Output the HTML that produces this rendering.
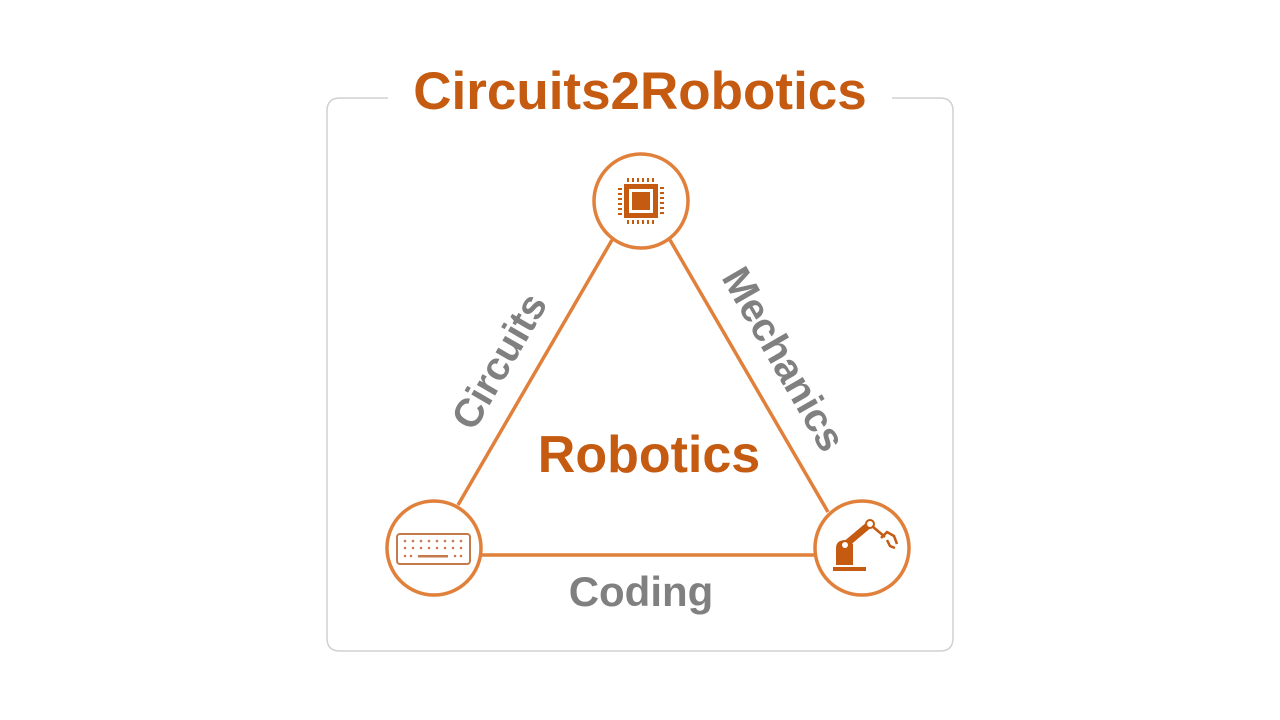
<!DOCTYPE html>
<html><head><meta charset="utf-8"><style>
body{margin:0;background:#fff;}
svg{display:block}
text{font-family:"Liberation Sans",sans-serif;font-weight:bold}
</style></head><body>
<svg width="1280" height="720" viewBox="0 0 1280 720">
<path d="M388 98 H340 Q327 98 327 111 V638 Q327 651 340 651 H940 Q953 651 953 638 V111 Q953 98 940 98 H892" fill="none" stroke="#d0d0d0" stroke-width="1.5"/>
<text x="640" y="109" font-size="53" fill="#c55a11" text-anchor="middle">Circuits2Robotics</text>
<g stroke="#e0803a" stroke-width="3.5" fill="none">
<line x1="612" y1="240" x2="458" y2="505"/>
<line x1="670" y1="240" x2="828" y2="512"/>
<line x1="481" y1="555" x2="815" y2="555"/>
<circle cx="641" cy="201" r="47" fill="#fff"/>
<circle cx="434" cy="548" r="47" fill="#fff"/>
<circle cx="862" cy="548" r="47" fill="#fff"/>
</g>
<g fill="#c55a11">
<rect x="624" y="184" width="34" height="34"/>
<rect x="629" y="189" width="24" height="24" fill="#fff"/>
<rect x="632" y="192" width="18" height="18"/>
<g id="pins">
<rect x="627" y="178" width="2" height="4"/><rect x="632" y="178" width="2" height="4"/><rect x="637" y="178" width="2" height="4"/><rect x="642" y="178" width="2" height="4"/><rect x="647" y="178" width="2" height="4"/><rect x="652" y="178" width="2" height="4"/>
</g>
<use href="#pins" y="42"/>
<use href="#pins" transform="rotate(90 641 201)"/>
<use href="#pins" transform="rotate(-90 641 201)"/>
</g>
<rect x="397" y="534" width="73" height="30" rx="3" fill="none" stroke="#c57a4a" stroke-width="2"/>
<g fill="#c57a4a">
<g id="row"><circle cx="405" cy="541" r="1.3"/><circle cx="413" cy="541" r="1.3"/><circle cx="421" cy="541" r="1.3"/><circle cx="429" cy="541" r="1.3"/><circle cx="437" cy="541" r="1.3"/><circle cx="445" cy="541" r="1.3"/><circle cx="453" cy="541" r="1.3"/><circle cx="461" cy="541" r="1.3"/></g>
<use href="#row" y="7"/>
<circle cx="405" cy="556" r="1.3"/><circle cx="411" cy="556" r="1.3"/><rect x="418" y="555" width="30" height="2.5"/><circle cx="455" cy="556" r="1.3"/><circle cx="461" cy="556" r="1.3"/>
</g>
<g fill="#c55a11" stroke="#c55a11">
<rect x="833" y="567" width="33" height="4" stroke="none"/>
<path d="M836 565 V548 Q836 540 846 540 L853 544 V565 Z" stroke="none"/>
<line x1="845" y1="545" x2="870" y2="524" stroke-width="7" stroke-linecap="round"/>
<circle cx="870" cy="524" r="4" fill="#fff" stroke-width="2"/>
<circle cx="845" cy="545" r="3" fill="#fff" stroke="none"/>
<path d="M872 526 L885 537 M881 538 L887 532 L894 536 L897 544 M887 540 L890 546 L895 548" fill="none" stroke-width="2.5"/>
</g>
<text x="649" y="472" font-size="52" fill="#c55a11" text-anchor="middle">Robotics</text>
<text x="641" y="606" font-size="42" fill="#808080" text-anchor="middle">Coding</text>
<text transform="translate(511,368) rotate(-60)" font-size="40" fill="#808080" text-anchor="middle">Circuits</text>
<text transform="translate(772,366) rotate(60)" font-size="40" fill="#808080" text-anchor="middle">Mechanics</text>
</svg>
</body></html>
